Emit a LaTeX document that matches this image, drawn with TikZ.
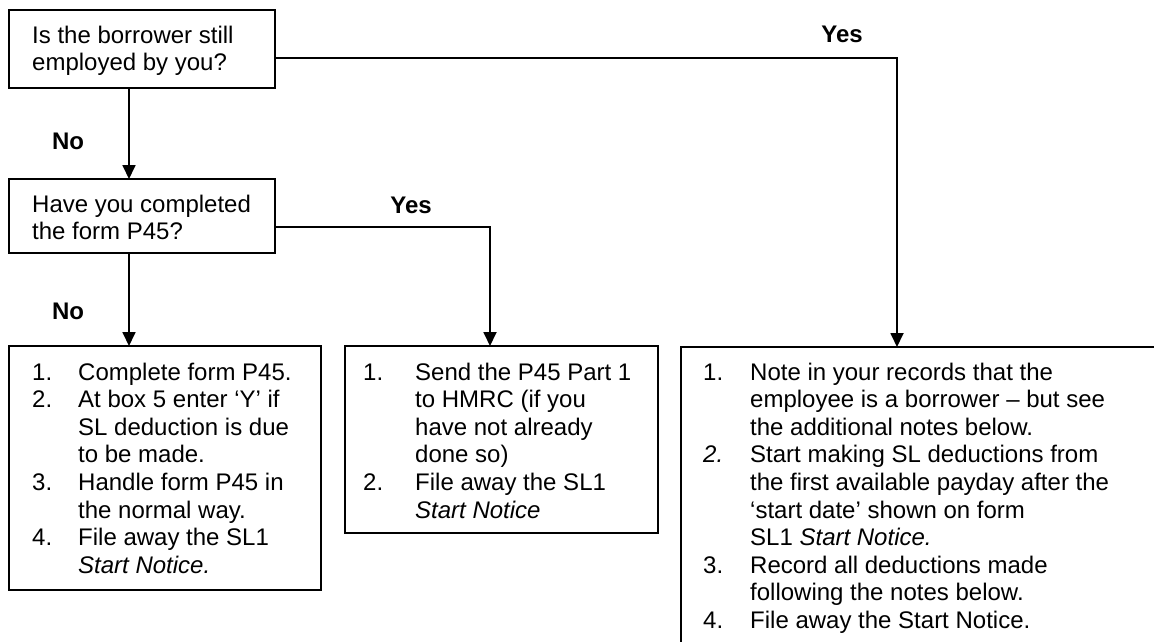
\documentclass[tikz,border=0pt]{standalone}
\usepackage{fontspec}
\setmainfont{Liberation Sans}
\usetikzlibrary{arrows.meta}
\begin{document}
\begin{tikzpicture}[x=1pt,y=-1pt,
  box/.style={draw, line width=2.2pt, inner sep=0pt, outer sep=0pt, anchor=north west},
  txt/.style={inner sep=0pt, anchor=base west, font=\fontsize{24}{27.6}\selectfont},
  lbl/.style={inner sep=0pt, font=\fontsize{24}{27.6}\selectfont\bfseries},
  conn/.style={line width=1.8pt, -{Triangle[width=13pt,length=14pt]}},
  plain/.style={line width=1.8pt}
]
\useasboundingbox (0,0) rectangle (1154,641);
\clip (0,0) rectangle (1154,641);

% boxes
\node[box, minimum width=266pt, minimum height=78pt] (q1) at (9,10) {};
\node[box, minimum width=266pt, minimum height=74pt] (q2) at (9,179) {};
\node[box, minimum width=312pt, minimum height=244pt] (bL) at (9,346) {};
\node[box, minimum width=313pt, minimum height=187pt] (bM) at (345,346) {};
\node[box, minimum width=490pt, minimum height=320pt] (bR) at (681,347) {};

% texts
\node[txt] (q1t) at (32,43) {\begin{tabular}[t]{@{}l@{}}Is the borrower still\\employed by you?\end{tabular}};
\node[txt] (q2t) at (32,212) {\begin{tabular}[t]{@{}l@{}}Have you completed\\the form P45?\end{tabular}};

\node[txt] (bLt) at (32,380) {\begin{tabular}[t]{@{}p{46pt}@{}l@{}}
1. & Complete form P45.\\
2. & At box 5 enter ‘Y’ if\\
   & SL deduction is due\\
   & to be made.\\
3. & Handle form P45 in\\
   & the normal way.\\
4. & File away the SL1\\
   & \textit{Start Notice.}
\end{tabular}};

\node[txt] (bMt) at (363,380) {\begin{tabular}[t]{@{}p{52pt}@{}l@{}}
1. & Send the P45 Part 1\\
   & to HMRC (if you\\
   & have not already\\
   & done so)\\
2. & File away the SL1\\
   & \textit{Start Notice}
\end{tabular}};

\node[txt] (bRt) at (703,380) {\begin{tabular}[t]{@{}p{47pt}@{}l@{}}
1. & Note in your records that the\\
   & employee is a borrower – but see\\
   & the additional notes below.\\
\textit{2.} & Start making SL deductions from\\
   & the first available payday after the\\
   & ‘start date’ shown on form\\
   & SL1 \textit{Start Notice.}\\
3. & Record all deductions made\\
   & following the notes below.\\
4. & File away the Start Notice.
\end{tabular}};

% labels
\node[lbl] (no1) at (68,141) {No};
\node[lbl] (no2) at (68,311) {No};
\node[lbl] (yes1) at (842,34) {Yes};
\node[lbl] (yes2) at (411,205) {Yes};

% connectors
\coordinate (a1) at ([xshift=-13pt]q1.south);
\draw[conn] (a1) -- (a1 |- q2.north);
\coordinate (a2) at ([xshift=-13pt]q2.south);
\draw[conn] (a2) -- (a2 |- bL.north);

\coordinate (y1) at ([yshift=-9pt]q1.east);
\coordinate (t3) at ([xshift=216pt]bR.north west);
\draw[conn] (y1) -| (t3);

\coordinate (y2) at ([yshift=-11pt]q2.east);
\coordinate (t2) at ([xshift=145pt]bM.north west);
\draw[conn] (y2) -| (t2);
\end{tikzpicture}
\end{document}
